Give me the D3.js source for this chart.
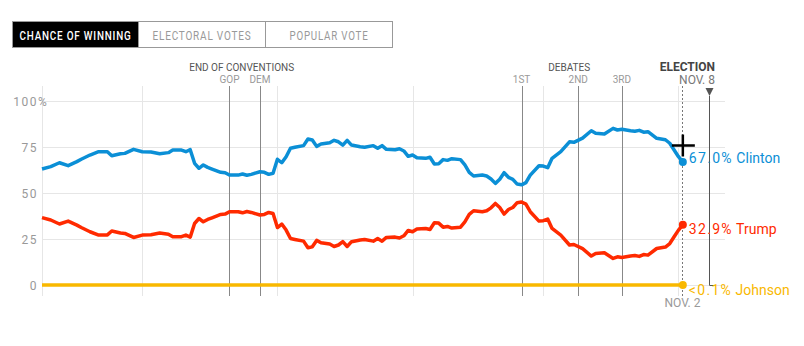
<!DOCTYPE html>
<html>
<head>
<meta charset="utf-8">
<script src="https://d3js.org/d3.v7.min.js"></script>
<style>
  body { margin: 0; background: #fff; }
  svg { display: block; font-family: Roboto, "Noto Sans", sans-serif; }
</style>
</head>
<body>
<svg width="804" height="346"></svg>
<script>
// chance of winning
var dates = ["2016-06-08","2016-06-10","2016-06-12","2016-06-14","2016-06-16","2016-06-17","2016-06-19","2016-06-21","2016-06-23","2016-06-24",
  "2016-06-26","2016-06-27","2016-06-29","2016-07-01","2016-07-03","2016-07-05","2016-07-07","2016-07-08","2016-07-10","2016-07-11",
  "2016-07-12","2016-07-13","2016-07-14","2016-07-15","2016-07-16","2016-07-17","2016-07-19","2016-07-20","2016-07-21","2016-07-23",
  "2016-07-24","2016-07-25","2016-07-26","2016-07-28","2016-07-29","2016-07-30","2016-07-31","2016-08-01","2016-08-02","2016-08-03",
  "2016-08-04","2016-08-05","2016-08-07","2016-08-08","2016-08-09","2016-08-10","2016-08-11","2016-08-13","2016-08-14","2016-08-15",
  "2016-08-16","2016-08-17","2016-08-18","2016-08-20","2016-08-21","2016-08-23","2016-08-24","2016-08-25","2016-08-26","2016-08-28",
  "2016-08-29","2016-08-30","2016-08-31","2016-09-01","2016-09-02","2016-09-04","2016-09-05","2016-09-06","2016-09-07","2016-09-08",
  "2016-09-09","2016-09-10","2016-09-12","2016-09-13","2016-09-14","2016-09-15","2016-09-17","2016-09-18","2016-09-19","2016-09-20",
  "2016-09-21","2016-09-22","2016-09-23","2016-09-24","2016-09-25","2016-09-26","2016-09-27","2016-09-28","2016-09-30","2016-10-01",
  "2016-10-02","2016-10-03","2016-10-05","2016-10-07","2016-10-08","2016-10-10","2016-10-12","2016-10-13","2016-10-15","2016-10-17",
  "2016-10-18","2016-10-19","2016-10-21","2016-10-22","2016-10-23","2016-10-24","2016-10-25","2016-10-27","2016-10-29","2016-10-30",
  "2016-10-31","2016-11-01","2016-11-02"];

var clinton = [63.2,64.5,66.6,65.0,67.2,68.5,70.8,72.6,72.6,70.4,
  71.5,71.7,73.9,72.6,72.4,71.5,72.1,73.5,73.5,72.6,
  73.7,66.3,63.6,65.4,64.1,63.2,61.4,61.2,59.9,59.9,
  60.5,59.8,60.3,61.7,61.4,60.3,60.9,68.5,66.6,69.9,
  74.5,75.0,75.9,79.5,79.0,75.5,76.8,77.5,78.8,78.0,
  76.2,78.8,76.2,75.3,75.0,75.9,74.5,75.9,73.9,73.7,
  74.2,73.0,70.1,70.8,69.3,69.0,69.6,65.9,66.1,68.3,
  67.9,68.8,68.3,65.4,61.4,59.4,59.9,59.4,57.8,55.4,
  57.6,61.2,58.7,57.6,55.0,54.6,55.8,59.9,65.0,64.8,
  63.9,69.0,72.6,78.0,77.7,80.0,84.0,82.6,82.2,85.3,
  84.4,84.8,84.0,83.7,84.2,83.2,83.5,79.9,79.1,77.2,
  73.5,69.9,67.0];

var trump = [36.8,35.5,33.3,34.9,32.7,31.4,29.1,27.3,27.4,29.5,
  28.4,28.2,26.0,27.3,27.5,28.4,27.8,26.4,26.4,27.3,
  26.2,33.6,36.3,34.5,35.8,36.7,38.5,38.7,40.0,40.0,
  39.4,40.1,39.6,38.2,38.5,39.6,39.0,31.4,33.3,30.0,
  25.4,24.9,24.0,20.4,20.9,24.4,23.1,22.4,21.1,21.9,
  23.7,21.1,23.7,24.6,24.9,24.0,25.4,24.0,26.0,26.2,
  25.7,26.9,29.8,29.1,30.6,30.9,30.3,34.0,33.8,31.6,
  32.0,31.1,31.6,34.5,38.5,40.5,40.0,40.5,42.1,44.5,
  42.3,38.7,41.2,42.3,44.9,45.3,44.1,40.0,34.9,35.1,
  36.0,30.9,27.3,21.9,22.2,19.9,15.9,17.3,17.7,14.6,
  15.5,15.1,15.9,16.2,15.7,16.7,16.4,20.0,20.8,22.7,
  26.4,30.0,32.9];

var johnsonDates = ["2016-06-08", "2016-11-02"];
var johnson = [0.1, 0.1];

var yTicks = [0, 25, 50, 75, 100];
var monthLines = ["2016-07-01","2016-08-01","2016-09-01","2016-10-01","2016-11-01"];

var conventions = [{label: "GOP", date: "2016-07-21"}, {label: "DEM", date: "2016-07-28"}];
var debates = [{label: "1ST", date: "2016-09-26"}, {label: "2ND", date: "2016-10-09"}, {label: "3RD", date: "2016-10-19"}];
var electionDay = "2016-11-08";
var hoverDay = "2016-11-02";

var tabs = ["CHANCE OF WINNING", "ELECTORAL VOTES", "POPULAR VOTE"];

var endLabels = [
  {name: "Clinton", value: "67.0%", color: "#0b8fd6", dy: -4},
  {name: "Trump", value: "32.9%", color: "#ff2a00", dy: 4},
  {name: "Johnson", value: "<0.1%", color: "#f9b800", dy: 5}
];

function init(){

  var parse = d3.timeParse("%Y-%m-%d");
  var svg = d3.select("svg");

  var x = d3.scaleTime()
    .domain([parse("2016-06-08"), parse(electionDay)])
    .range([42, 709]);

  var y = d3.scaleLinear()
    .domain([0, 100])
    .range([285.3, 101.3]);

  var gridRight = 725, top = 86, bottom = 296;

  //tabs at top
  var tabX = [12, 138, 265, 392];
  var tabW = [112, 99, 79];
  var tab = svg.append("g");
  tabs.forEach(function(t, i){
    tab.append("rect")
      .attr("x", tabX[i] + 0.5).attr("y", 21.5)
      .attr("width", tabX[i+1] - tabX[i]).attr("height", 26)
      .attr("fill", i == 0 ? "#000" : "#fff")
      .attr("stroke", "#999");
    tab.append("text")
      .attr("x", (tabX[i] + tabX[i+1]) / 2 + 0.5)
      .attr("y", 39.5)
      .attr("text-anchor", "middle")
      .attr("textLength", tabW[i])
      .attr("lengthAdjust", "spacingAndGlyphs")
      .style("font-size", "12.5px")
      .style("font-weight", i == 0 ? 500 : 400)
      .style("letter-spacing", "1px")
      .attr("fill", i == 0 ? "#fff" : "#999")
      .text(t);
  });

  //horizontal grid
  svg.append("g").selectAll("line")
    .data(yTicks)
    .enter().append("line")
      .attr("x1", x.range()[0]).attr("x2", gridRight)
      .attr("y1", function(d){ return Math.round(y(d)) + 0.5; })
      .attr("y2", function(d){ return Math.round(y(d)) + 0.5; })
      .attr("stroke", "#e6e6e6");

  //vertical grid (chart start + months)
  svg.append("g").selectAll("line")
    .data([dates[0]].concat(monthLines))
    .enter().append("line")
      .attr("x1", function(d){ return Math.round(x(parse(d))) + 0.5; })
      .attr("x2", function(d){ return Math.round(x(parse(d))) + 0.5; })
      .attr("y1", top).attr("y2", bottom)
      .attr("stroke", "#e6e6e6");

  //y axis labels
  var yl = svg.append("g");
  yl.selectAll("text")
    .data(yTicks)
    .enter().append("text")
      .attr("x", 38)
      .attr("y", function(d){ return y(d); })
      .attr("dy", "0.35em")
      .attr("text-anchor", "end")
      .attr("fill", "#999")
      .style("font-size", "12px")
      .style("letter-spacing", "1.5px")
      .text(function(d){ return d; });
  yl.append("text")
    .attr("x", 38).attr("y", y(100)).attr("dy", "0.35em")
    .attr("fill", "#999").style("font-size", "12px")
    .text("%");

  //event lines
  var events = conventions.concat(debates);
  svg.append("g").selectAll("line")
    .data(events)
    .enter().append("line")
      .attr("x1", function(d){ return Math.round(x(parse(d.date))) + 0.5; })
      .attr("x2", function(d){ return Math.round(x(parse(d.date))) + 0.5; })
      .attr("y1", top).attr("y2", bottom)
      .attr("stroke", "#888");

  svg.append("g").selectAll("text")
    .data(events)
    .enter().append("text")
      .attr("x", function(d){ return x(parse(d.date)); })
      .attr("y", 83)
      .attr("text-anchor", "middle")
      .attr("fill", "#999")
      .style("font-size", "10px")
      .text(function(d){ return d.label; });

  svg.append("text")
    .attr("x", (x(parse(conventions[0].date)) + x(parse(conventions[1].date))) / 2 - 3)
    .attr("y", 71)
    .attr("text-anchor", "middle")
    .attr("fill", "#555")
    .style("font-size", "10px")
    .text("END OF CONVENTIONS");

  svg.append("text")
    .attr("x", x(parse(debates[1].date)) - 9)
    .attr("y", 71)
    .attr("text-anchor", "middle")
    .attr("fill", "#555")
    .style("font-size", "10px")
    .text("DEBATES");

  //election day marker
  var ex = Math.round(x(parse(electionDay))) + 0.5;
  svg.append("text")
    .attr("x", 715).attr("y", 71)
    .attr("text-anchor", "end")
    .attr("fill", "#444")
    .style("font-size", "12px").style("font-weight", 700)
    .text("ELECTION");
  svg.append("text")
    .attr("x", 715).attr("y", 84)
    .attr("text-anchor", "end")
    .attr("fill", "#777")
    .style("font-size", "12px")
    .text("NOV. 8");
  svg.append("path")
    .attr("d", "M" + (ex - 4) + ",88L" + (ex + 4) + ",88L" + ex + ",96Z")
    .attr("fill", "#555");
  svg.append("line")
    .attr("x1", ex).attr("x2", ex)
    .attr("y1", 96).attr("y2", y(0))
    .attr("stroke", "#555");
  svg.append("line")
    .attr("x1", ex).attr("x2", ex + 6)
    .attr("y1", Math.round(y(0)) + 0.5).attr("y2", Math.round(y(0)) + 0.5)
    .attr("stroke", "#555");

  //hover day line
  var hx = Math.round(x(parse(hoverDay))) - 0.5;
  svg.append("line")
    .attr("x1", hx).attr("x2", hx)
    .attr("y1", top).attr("y2", bottom)
    .attr("stroke", "#777")
    .attr("stroke-dasharray", "2,2");
  svg.append("text")
    .attr("x", hx).attr("y", 307)
    .attr("text-anchor", "middle")
    .attr("fill", "#999")
    .style("font-size", "12px")
    .text("NOV. 2");

  //lines
  var line = d3.line()
    .x(function(d){ return x(d.date); })
    .y(function(d){ return y(d.value); });

  function series(ds, vs){
    return ds.map(function(d, i){ return {date: parse(d), value: vs[i]}; });
  }

  var lineData = [
    {key: "Johnson", values: series(johnsonDates, johnson), color: endLabels[2].color},
    {key: "Trump", values: series(dates, trump), color: endLabels[1].color},
    {key: "Clinton", values: series(dates, clinton), color: endLabels[0].color}
  ];

  svg.append("g").selectAll("path")
    .data(lineData)
    .enter().append("path")
      .attr("d", function(d){ return line(d.values); })
      .attr("fill", "none")
      .attr("stroke", function(d){ return d.color; })
      .attr("stroke-width", 3.5)
      .attr("stroke-linejoin", "round");

  //end dots
  svg.append("g").selectAll("circle")
    .data(lineData)
    .enter().append("circle")
      .attr("cx", function(d){ return x(d.values[d.values.length - 1].date); })
      .attr("cy", function(d){ return y(d.values[d.values.length - 1].value); })
      .attr("r", 4)
      .attr("fill", function(d){ return d.color; });

  //end labels
  var ends = [clinton[clinton.length - 1], trump[trump.length - 1], johnson[johnson.length - 1]];
  endLabels.forEach(function(l, i){
    var t = svg.append("text")
      .attr("x", x(parse(hoverDay)) + 6)
      .attr("y", y(ends[i]) + l.dy)
      .attr("dy", "0.35em")
      .attr("fill", l.color)
      .style("font-size", "14px");
    t.append("tspan").style("letter-spacing", "1.3px").text(l.value);
    t.append("tspan").text(" " + l.name);
  });

  //mouse cursor
  var cx = x(parse(hoverDay)), cy = 145.5;
  svg.append("path")
    .attr("d", "M" + (cx - 11) + "," + cy + "H" + (cx + 12) + "M" + cx + "," + (cy - 11) + "V" + (cy + 11))
    .attr("stroke", "#000")
    .attr("stroke-width", 2.5);
}

window.onload = init;
</script>
</body>
</html>
